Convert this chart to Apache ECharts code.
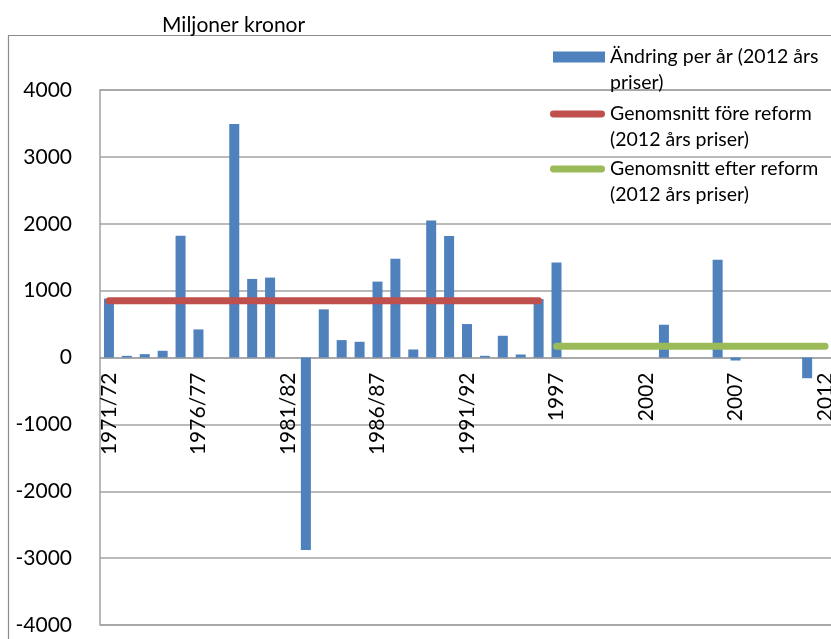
<!DOCTYPE html>
<html>
<head>
<meta charset="utf-8">
<title>Miljoner kronor</title>
<script src="https://cdn.jsdelivr.net/npm/echarts@6/dist/echarts.min.js"></script>
<style>
  html, body { margin: 0; padding: 0; background: #fff; }
  #chart { width: 831px; height: 639px; }
</style>
</head>
<body>
<div id="chart"></div>
<script>
// Fiscal years up to 1995/96, calendar years from 1997
const categories = [
  '1971/72', '1972/73', '1973/74', '1974/75', '1975/76', '1976/77', '1977/78',
  '1978/79', '1979/80', '1980/81', '1981/82', '1982/83', '1983/84', '1984/85',
  '1985/86', '1986/87', '1987/88', '1988/89', '1989/90', '1990/91', '1991/92',
  '1992/93', '1993/94', '1994/95', '1995/96',
  '1997', '1998', '1999', '2000', '2001', '2002', '2003', '2004', '2005',
  '2006', '2007', '2008', '2009', '2010', '2011', '2012'
];

// Yearly change, million SEK (2012 prices)
const yearlyChange = [
  880, 25, 50, 100, 1820, 420, 0,
  3490, 1175, 1195, 0, -2880, 720, 260,
  235, 1135, 1475, 120, 2050, 1815, 500,
  25, 325, 45, 875,
  1420, 0, 0, 0, 0, 0, 490, 0, 0,
  1460, -45, 0, 0, 0, -310, null
];

// Period averages and the years they cover
const averageBefore = 850;
const beforePeriod = ['1971/72', '1995/96'];
const averageAfter = 170;
const afterPeriod = ['1997', '2012'];

const yTicks = { min: -4000, max: 4000, step: 1000 };

const seriesNames = [
  'Ändring per år (2012 års priser)',
  'Genomsnitt före reform (2012 års priser)',
  'Genomsnitt efter reform (2012 års priser)'
];
const legendLines = {
  'Ändring per år (2012 års priser)': ['Ändring per år (2012 års', 'priser)'],
  'Genomsnitt före reform (2012 års priser)': ['Genomsnitt före reform', '(2012 års priser)'],
  'Genomsnitt efter reform (2012 års priser)': ['Genomsnitt efter reform', '(2012 års priser)']
};

function periodLine(value, period) {
  const from = categories.indexOf(period[0]);
  const to = categories.indexOf(period[1]);
  return categories.map((c, i) => (i >= from && i <= to ? value : null));
}

const FONT = 'Lato';
const GRID_COLOR = '#a3a3a3';
const BAR_COLOR = '#4f81bd';
const RED = '#c0504d';
const GREEN = '#9bbb59';
const capsule = 'path://M3.5,0H52.5A3.5,3.5,0,0,1,52.5,7H3.5A3.5,3.5,0,0,1,3.5,0Z';

const GRID = { left: 100, top: 90, width: 734, height: 535 };
// Category axis sits on the zero line of the value axis
const zeroShift = -GRID.height * (yTicks.max / (yTicks.max - yTicks.min));

// A blank first line keeps the marker level with the first text line
const legendTextStyle = {
  fontFamily: FONT, fontSize: 19.5, color: '#000', lineHeight: 26
};
function legendFor(name, left, top, icon, w, h) {
  return {
    data: [name], left: left, top: top, padding: 0,
    icon: icon, itemWidth: w, itemHeight: h,
    selectedMode: false,
    formatter: n => ' \n' + legendLines[n].join('\n'),
    textStyle: legendTextStyle
  };
}

const chart = echarts.init(document.getElementById('chart'), null, { renderer: 'canvas' });

chart.setOption({
  animation: false,
  backgroundColor: '#fff',
  title: {
    text: 'Miljoner kronor',
    left: 157, top: 10,
    textStyle: { fontFamily: FONT, fontSize: 21, fontWeight: 'normal', color: '#000' }
  },
  graphic: [{
    type: 'rect',
    shape: { x: 8.5, y: 35.5, width: 900, height: 700 },
    style: { fill: 'none', stroke: '#8c8c8c', lineWidth: 1.2 },
    silent: true
  }],
  legend: [
    legendFor(seriesNames[0], 553, 18, 'rect', 52, 11),
    legendFor(seriesNames[1], 550, 75, capsule, 55, 7),
    legendFor(seriesNames[2], 550, 130, capsule, 55, 7)
  ],
  grid: Object.assign({
    show: true, borderColor: GRID_COLOR, borderWidth: 1.5,
    containLabel: false,
    outerBoundsMode: 'none'
  }, GRID),
  xAxis: {
    type: 'category',
    data: categories,
    boundaryGap: true,
    position: 'bottom',
    offset: zeroShift,
    axisLine: { show: true, onZero: false, lineStyle: { color: GRID_COLOR, width: 1.5 } },
    axisTick: { show: false },
    axisLabel: {
      interval: 4, rotate: 90, margin: 15,
      fontFamily: FONT, fontSize: 21, color: '#000'
    },
    splitLine: { show: false }
  },
  yAxis: {
    type: 'value',
    min: yTicks.min, max: yTicks.max, interval: yTicks.step,
    axisLine: { show: false },
    axisTick: { show: false },
    axisLabel: {
      margin: 28, fontFamily: FONT, fontSize: 21, color: '#000',
      formatter: v => String(v)
    },
    splitLine: { show: true, lineStyle: { color: GRID_COLOR, width: 1.5 } }
  },
  series: [
    {
      name: seriesNames[0],
      type: 'bar',
      data: yearlyChange,
      barWidth: 10,
      color: BAR_COLOR,
      itemStyle: { color: BAR_COLOR },
      z: 2
    },
    {
      name: seriesNames[1],
      type: 'line',
      data: periodLine(averageBefore, beforePeriod),
      color: RED,
      showSymbol: false,
      symbol: 'none',
      lineStyle: { color: RED, width: 7, cap: 'round' },
      itemStyle: { color: RED },
      z: 3
    },
    {
      name: seriesNames[2],
      type: 'line',
      data: periodLine(averageAfter, afterPeriod),
      color: GREEN,
      showSymbol: false,
      symbol: 'none',
      lineStyle: { color: GREEN, width: 7, cap: 'round' },
      itemStyle: { color: GREEN },
      z: 3
    }
  ]
});
</script>
</body>
</html>
